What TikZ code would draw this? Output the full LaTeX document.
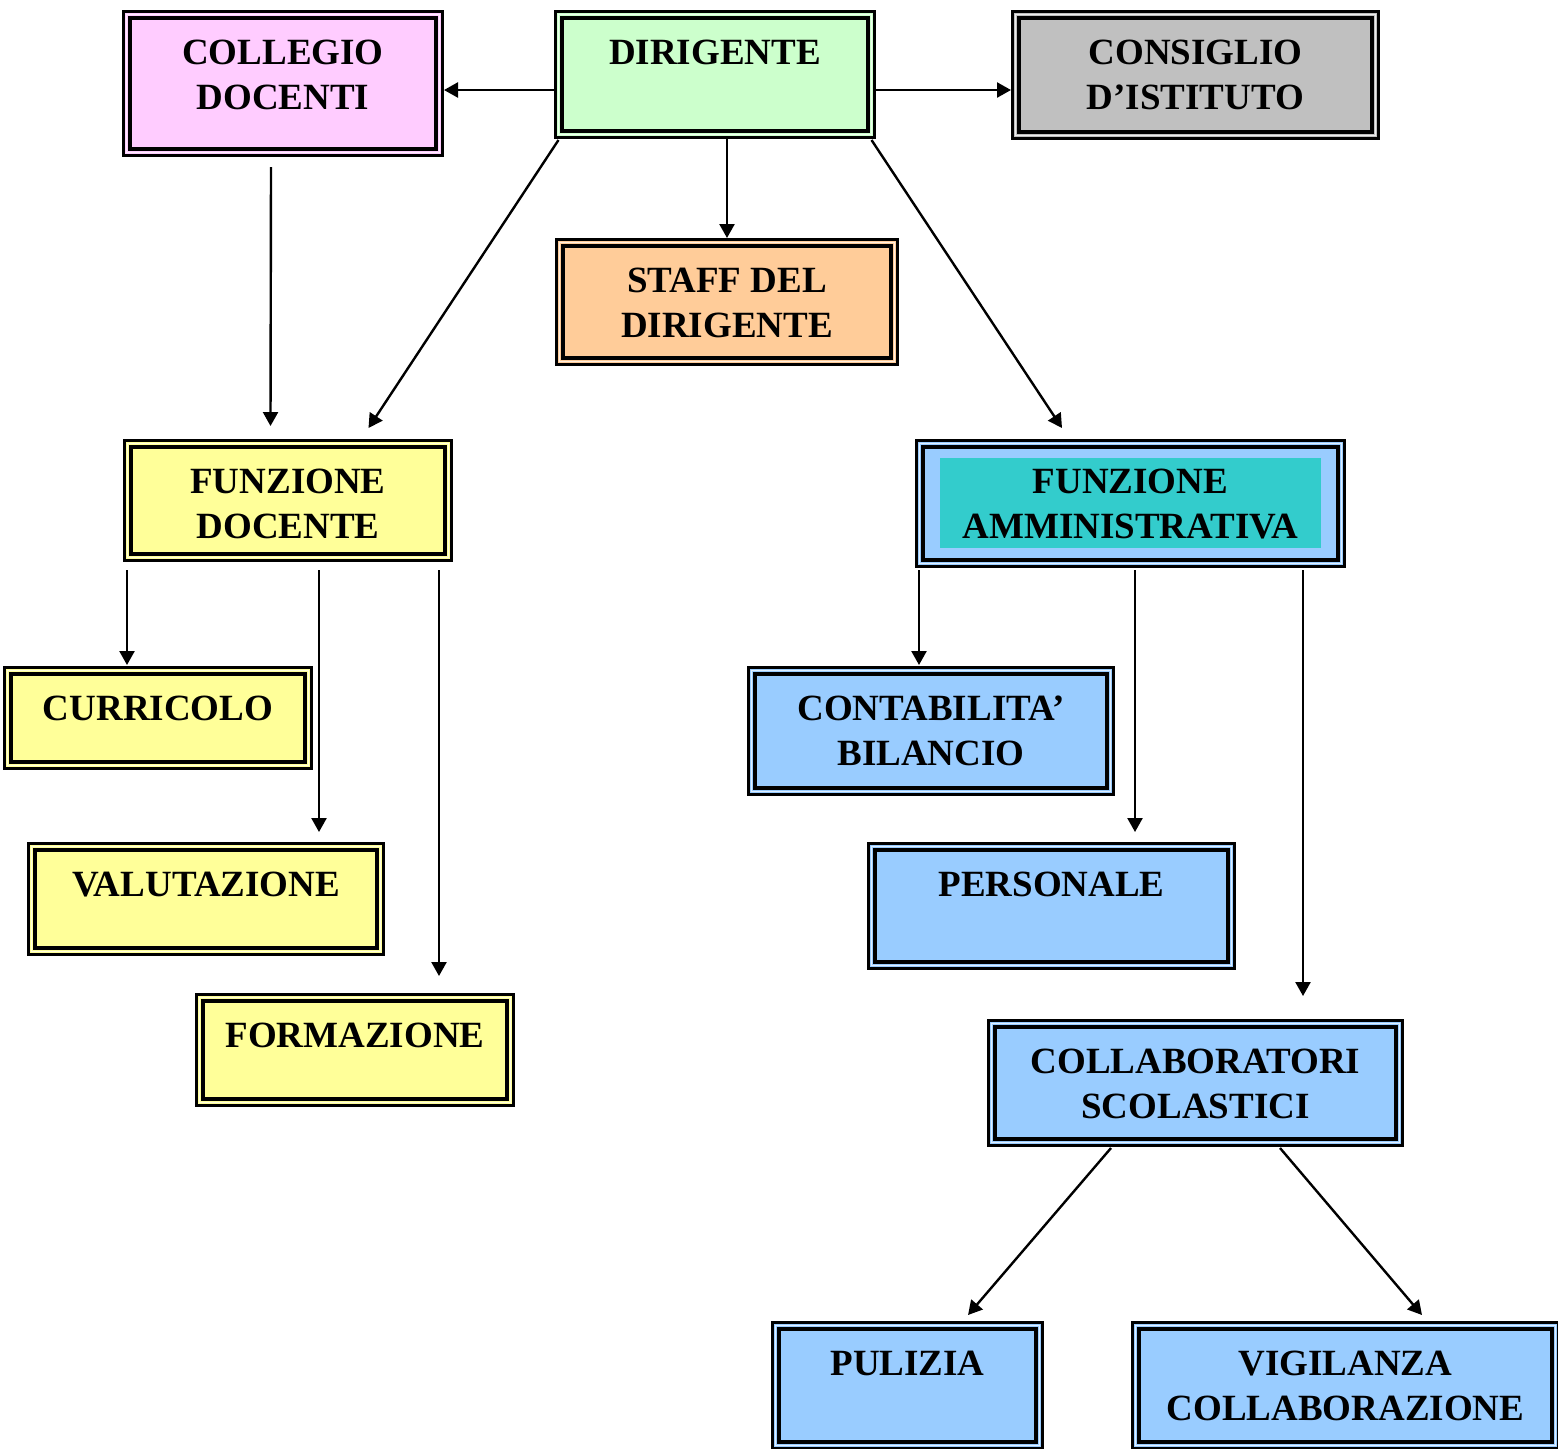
\documentclass[tikz,border=0pt]{standalone}
\usepackage{fontspec}
\setmainfont{Liberation Serif}
\usetikzlibrary{calc,arrows.meta}
\definecolor{rosa}{HTML}{FFCCFF}
\definecolor{verde}{HTML}{CCFFCC}
\definecolor{grigio}{HTML}{C0C0C0}
\definecolor{arancio}{HTML}{FFCC99}
\definecolor{giallo}{HTML}{FFFF99}
\definecolor{azzurro}{HTML}{99CCFF}
\definecolor{turchese}{HTML}{33CCCC}
\newcommand{\boxrim}{%
  \draw[white, opacity=0.7, line width=0.8pt]
    ([shift={(1.5pt,-1.5pt)}]path picture bounding box.north west) rectangle
    ([shift={(-1.5pt,1.5pt)}]path picture bounding box.south east);
  \draw[black, line width=2.2pt]
    ([shift={(3.3pt,-3.3pt)}]path picture bounding box.north west) rectangle
    ([shift={(-3.3pt,3.3pt)}]path picture bounding box.south east);}
\tikzset{
  box/.style={draw=black, line width=1.6pt, fill=#1, anchor=north west,
    inner sep=0pt, outer sep=0pt, path picture={\boxrim}},
  txt/.style={anchor=north, yshift=-14pt, inner sep=0pt, align=center,
    font=\fontsize{18.5}{22.5}\selectfont\bfseries},
  arr/.style={draw=black, line width=1.2pt, -{Triangle[length=7pt,width=7.5pt]}},
}

\begin{document}
\begin{tikzpicture}[x=0.5pt, y=-0.5pt]
  \useasboundingbox (0,0) rectangle (1558,1448);
  % first row
  \node[box=rosa, minimum width=159.5pt, minimum height=72pt,
    label={[txt]north:{COLLEGIO\\DOCENTI}}] (cd) at (123.5,11.5) {};
  \node[box=verde, minimum width=159.5pt, minimum height=63pt,
    label={[txt]north:DIRIGENTE}] (dir) at (555.5,11.5) {};
  \node[box=grigio, minimum width=183pt, minimum height=63.5pt,
    label={[txt]north:{CONSIGLIO\\D’ISTITUTO}}] (ci) at (1012.5,11.5) {};
  \node[box=arancio, minimum width=170.5pt, minimum height=62.5pt,
    label={[txt]north:{STAFF DEL\\DIRIGENTE}}] (staff) at (556.5,239.5) {};
  % funzioni
  \node[box=giallo, minimum width=163.5pt, minimum height=60pt,
    label={[txt]north:{FUNZIONE\\DOCENTE}}] (fd) at (124.5,440.5) {};
  \node[box=azzurro, minimum width=214pt, minimum height=63pt,
    path picture={\boxrim
      \fill[turchese] ([shift={(11.75pt,-8.75pt)}]path picture bounding box.north west)
        rectangle ([shift={(-11.75pt,9.25pt)}]path picture bounding box.south east);},
    label={[txt]north:{FUNZIONE\\AMMINISTRATIVA}}] (fa) at (916.5,440.5) {};
  % area docente
  \node[box=giallo, minimum width=153.5pt, minimum height=50.5pt,
    label={[txt]north:CURRICOLO}] (cur) at (4.5,667.5) {};
  \node[box=giallo, minimum width=177.5pt, minimum height=55.5pt,
    label={[txt]north:VALUTAZIONE}] (val) at (28.5,843.5) {};
  \node[box=giallo, minimum width=158.5pt, minimum height=55.5pt,
    label={[txt]north:FORMAZIONE}] (form) at (196.5,994.5) {};
  % area amministrativa
  \node[box=azzurro, minimum width=182.5pt, minimum height=63.5pt,
    label={[txt]north:{CONTABILITA’\\BILANCIO}}] (cont) at (748.5,667.5) {};
  \node[box=azzurro, minimum width=183pt, minimum height=62.5pt,
    label={[txt]north:PERSONALE}] (pers) at (868.5,843.5) {};
  \node[box=azzurro, minimum width=207pt, minimum height=62.5pt,
    label={[txt]north:{COLLABORATORI\\SCOLASTICI}}] (coll) at (988.5,1020.5) {};
  \node[box=azzurro, minimum width=135pt, minimum height=63pt,
    label={[txt]north:PULIZIA}] (pul) at (772.5,1322.5) {};
  \node[box=azzurro, minimum width=213pt, minimum height=63pt,
    label={[txt]north:{VIGILANZA\\COLLABORAZIONE}}] (vig) at (1132.5,1322.5) {};
  % connettori
  \draw[arr] ($(dir.west)+(0,15.5)$) -- ($(cd.east)+(1.5,6.5)$);
  \draw[arr] ($(dir.east)+(0,15.5)$) -- ($(ci.west)+(-1.5,15)$);
  \draw[arr] ($(dir.south)+(12,1.5)$) -- ($(staff.north)+(0,-1.5)$);
  \draw[arr] ($(dir.south west)+(3,2.5)$) -- ($(fd.north)+(80.5,-12.5)$);
  \draw[arr] ($(dir.south east)+(-3,2.5)$) -- ($(fa.north)+(-68.5,-12.5)$);
  \draw[arr] ($(cd.south)+(-12,11.5)$) -- ($(fd.north)+(-17.5,-14.5)$);
  \draw[arr] ($(fd.south west)+(2.5,9.5)$) -- ($(cur.north west)+(122.5,-2.5)$);
  \draw[arr] ($(fd.south west)+(194.5,9.5)$) -- ($(val.north west)+(290.5,-11.5)$);
  \draw[arr] ($(fd.south west)+(314.5,9.5)$) -- ($(form.north west)+(242.5,-18.5)$);
  \draw[arr] ($(fa.south west)+(2.5,3.5)$) -- ($(cont.north west)+(170.5,-2.5)$);
  \draw[arr] ($(fa.south west)+(218.5,3.5)$) -- ($(pers.north west)+(266.5,-11.5)$);
  \draw[arr] ($(fa.south west)+(386.5,3.5)$) -- ($(coll.north west)+(314.5,-24.5)$);
  \draw[arr] ($(coll.south west)+(122.5,2.5)$) -- ($(pul.north west)+(195.5,-7.5)$);
  \draw[arr] ($(coll.south west)+(291.5,2.5)$) -- ($(vig.north west)+(289.5,-7.5)$);
\end{tikzpicture}
\end{document}
